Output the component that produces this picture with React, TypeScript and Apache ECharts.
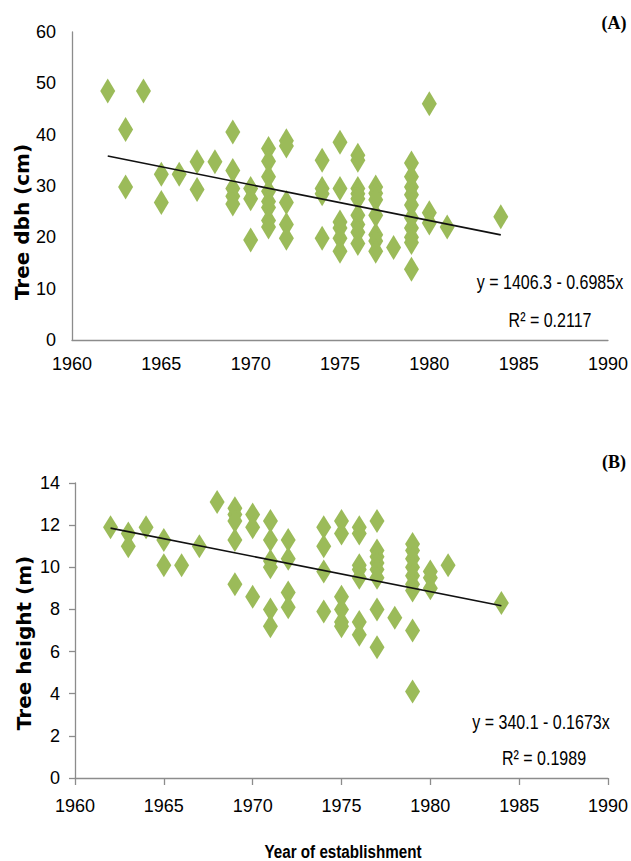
import React, { useEffect, useRef } from "react";
import * as echarts from "echarts";

// Panel A: tree dbh (cm) by year of establishment
const yearsA = [
  1962, 1963, 1963, 1964, 1965, 1965, 1966, 1967, 1967, 1968,
  1969, 1969, 1969, 1969, 1969, 1970, 1970, 1970,
  1971, 1971, 1971, 1971, 1971, 1971, 1971, 1971,
  1972, 1972, 1972, 1972, 1972,
  1974, 1974, 1974, 1974,
  1975, 1975, 1975, 1975, 1975, 1975,
  1976, 1976, 1976, 1976, 1976, 1976, 1976, 1976, 1976,
  1977, 1977, 1977, 1977, 1977, 1977, 1977,
  1978,
  1979, 1979, 1979, 1979, 1979, 1979, 1979, 1979, 1979, 1979,
  1980, 1980, 1980, 1981, 1984,
];
const dbhA = [
  48.5, 41, 29.8, 48.5, 32.3, 26.8, 32.3, 34.7, 29.3, 34.7,
  40.5, 33, 29.5, 28, 26.5, 29.5, 27.5, 19.5,
  37.3, 34.8, 31.8, 29, 27, 25.8, 23.3, 22,
  38.8, 37.8, 26.8, 22.5, 19.8,
  35, 29.5, 28.5, 19.8,
  38.5, 29.5, 23, 21.8, 19.8, 17.3,
  36, 35, 29.5, 28.5, 27.5, 24.3, 22.5, 21, 18.8,
  29.8, 28.6, 27.3, 24.3, 20.5, 19.3, 17.3,
  18,
  34.5, 31.8, 29.8, 28.3, 26.3, 23.8, 21.8, 20, 19, 13.8,
  46, 24.8, 22.8, 22, 24,
];

// Panel B: tree height (m) by year of establishment
const yearsB = [
  1962, 1963, 1963, 1964, 1965, 1965, 1966, 1967, 1968,
  1969, 1969, 1969, 1969, 1969, 1970, 1970, 1970,
  1971, 1971, 1971, 1971, 1971, 1971,
  1972, 1972, 1972, 1972,
  1974, 1974, 1974, 1974,
  1975, 1975, 1975, 1975, 1975, 1975,
  1976, 1976, 1976, 1976, 1976, 1976, 1976,
  1977, 1977, 1977, 1977, 1977, 1977, 1977, 1977,
  1978,
  1979, 1979, 1979, 1979, 1979, 1979, 1979, 1979, 1979,
  1980, 1980, 1980, 1981, 1984,
];
const heightB = [
  11.9, 11.6, 11.0, 11.9, 11.3, 10.1, 10.1, 11.0, 13.1,
  12.8, 12.5, 12.2, 11.3, 9.2, 12.5, 11.9, 8.6,
  12.2, 11.3, 10.3, 10.0, 8.0, 7.2,
  11.3, 10.4, 8.8, 8.1,
  11.9, 11.0, 9.8, 7.9,
  12.2, 11.6, 8.6, 8.0, 7.4, 7.2,
  11.9, 11.6, 10.1, 9.9, 9.5, 7.4, 6.8,
  12.2, 10.8, 10.5, 10.2, 9.9, 9.5, 8.0, 6.2,
  7.6,
  11.1, 10.8, 10.4, 10.0, 9.6, 9.2, 8.9, 7.0, 4.1,
  9.8, 9.5, 9.0, 10.1, 8.3,
];

// Linear trend coefficients (y = intercept + slope * x)
const trendA = { intercept: 1406.3, slope: -0.6985 };
const trendB = { intercept: 340.1, slope: -0.1673 };
const trendRange = [1962, 1984];

const xTicks = { min: 1960, max: 1990, interval: 5 };
const yTicksA = { min: 0, max: 60, interval: 10 };
const yTicksB = { min: 0, max: 14, interval: 2 };

const eqTextA = ["y = 1406.3 - 0.6985x", "R² = 0.2117"];
const eqTextB = ["y = 340.1 - 0.1673x", "R² = 0.1989"];

const GREEN = "#9BBB59";
const AXIS = "#8C8C8C";
const SANS = '"Liberation Sans", Arial, sans-serif';

export default function App() {
  const ref = useRef<HTMLDivElement>(null);
  useEffect(() => {
    if (!ref.current) return;
    const chart = echarts.init(ref.current, null, { renderer: "svg" });
    const pairs = (xs: number[], ys: number[]) => xs.map((x, i) => [x, ys[i]]);
    const trend = (t: { intercept: number; slope: number }) =>
      trendRange.map((x) => [x, t.intercept + t.slope * x]);

    const labelStyle = (margin: number) => ({
      color: "#000",
      fontFamily: SANS,
      fontSize: 18,
      margin,
      formatter: (v: number) => String(v),
    });

    const xAxisBase = (gridIndex: number, ticks: boolean, margin: number) => ({
      type: "value",
      gridIndex,
      min: xTicks.min,
      max: xTicks.max,
      interval: xTicks.interval,
      axisLine: { show: true, onZero: false, lineStyle: { color: AXIS, width: 1.3 } },
      axisTick: { show: ticks, length: 7, lineStyle: { color: AXIS, width: 1.3 } },
      splitLine: { show: false },
      axisLabel: labelStyle(margin),
    });
    const yAxisBase = (gridIndex: number, t: any, ticks: boolean, margin: number) => ({
      type: "value",
      gridIndex,
      min: t.min,
      max: t.max,
      interval: t.interval,
      axisLine: { show: true, lineStyle: { color: AXIS, width: 1.3 } },
      axisTick: { show: ticks, length: 6, lineStyle: { color: AXIS, width: 1.3 } },
      splitLine: { show: false },
      axisLabel: labelStyle(margin),
    });

    const eqStyle = {
      fill: "#000",
      font: `20px ${SANS}`,
      textAlign: "center",
      textVerticalAlign: "middle",
    };
    const titleStyle = {
      fill: "#000",
      font: 'bold 20px "DejaVu Sans", Verdana, sans-serif',
      textAlign: "center",
      textVerticalAlign: "middle",
    };
    const narrow = { scaleX: 0.8 };

    chart.setOption({
      animation: false,
      backgroundColor: "#ffffff",
      grid: [
        { left: 72, top: 32, width: 538, height: 308 },
        { left: 75, top: 483, width: 539, height: 295 },
      ],
      xAxis: [xAxisBase(0, false, 15), xAxisBase(1, true, 19)],
      yAxis: [yAxisBase(0, yTicksA, false, 16), yAxisBase(1, yTicksB, true, 15)],
      series: [
        {
          type: "scatter",
          xAxisIndex: 0,
          yAxisIndex: 0,
          symbol: "diamond",
          symbolSize: [15, 25],
          itemStyle: { color: GREEN, opacity: 1 },
          data: pairs(yearsA, dbhA),
          z: 2,
        },
        {
          type: "line",
          xAxisIndex: 0,
          yAxisIndex: 0,
          data: trend(trendA),
          symbol: "none",
          lineStyle: { color: "#111", width: 1.6 },
          z: 3,
        },
        {
          type: "scatter",
          xAxisIndex: 1,
          yAxisIndex: 1,
          symbol: "diamond",
          symbolSize: [15, 24],
          itemStyle: { color: GREEN, opacity: 1 },
          data: pairs(yearsB, heightB),
          z: 2,
        },
        {
          type: "line",
          xAxisIndex: 1,
          yAxisIndex: 1,
          data: trend(trendB),
          symbol: "none",
          lineStyle: { color: "#111", width: 1.6 },
          z: 3,
        },
      ],
      graphic: [
        { type: "text", x: 550, y: 282, ...narrow, style: { ...eqStyle, text: eqTextA[0] } },
        { type: "text", x: 550, y: 320, ...narrow, style: { ...eqStyle, text: eqTextA[1] } },
        { type: "text", x: 541, y: 722, ...narrow, style: { ...eqStyle, text: eqTextB[0] } },
        { type: "text", x: 544, y: 758, ...narrow, style: { ...eqStyle, text: eqTextB[1] } },
        {
          type: "text", x: 22, y: 222, rotation: Math.PI / 2,
          style: { ...titleStyle, text: "Tree dbh (cm)" },
        },
        {
          type: "text", x: 24, y: 643, rotation: Math.PI / 2,
          style: { ...titleStyle, text: "Tree height (m)" },
        },
        {
          type: "text", x: 343, y: 851, ...narrow,
          style: {
            fill: "#000", font: `bold 19px ${SANS}`,
            textAlign: "center", textVerticalAlign: "middle",
            text: "Year of establishment",
          },
        },
        {
          type: "text", x: 614, y: 23,
          style: {
            fill: "#000", font: 'bold 18px "Liberation Serif", "Times New Roman", serif',
            textAlign: "center", textVerticalAlign: "middle", text: "(A)",
          },
        },
        {
          type: "text", x: 614, y: 462,
          style: {
            fill: "#000", font: 'bold 18px "Liberation Serif", "Times New Roman", serif',
            textAlign: "center", textVerticalAlign: "middle", text: "(B)",
          },
        },
      ],
    });
    return () => chart.dispose();
  }, []);
  return (
    <div
      ref={ref}
      style={{ position: "absolute", left: 0, top: 0, width: 631, height: 861, background: "#fff" }}
    />
  );
}
